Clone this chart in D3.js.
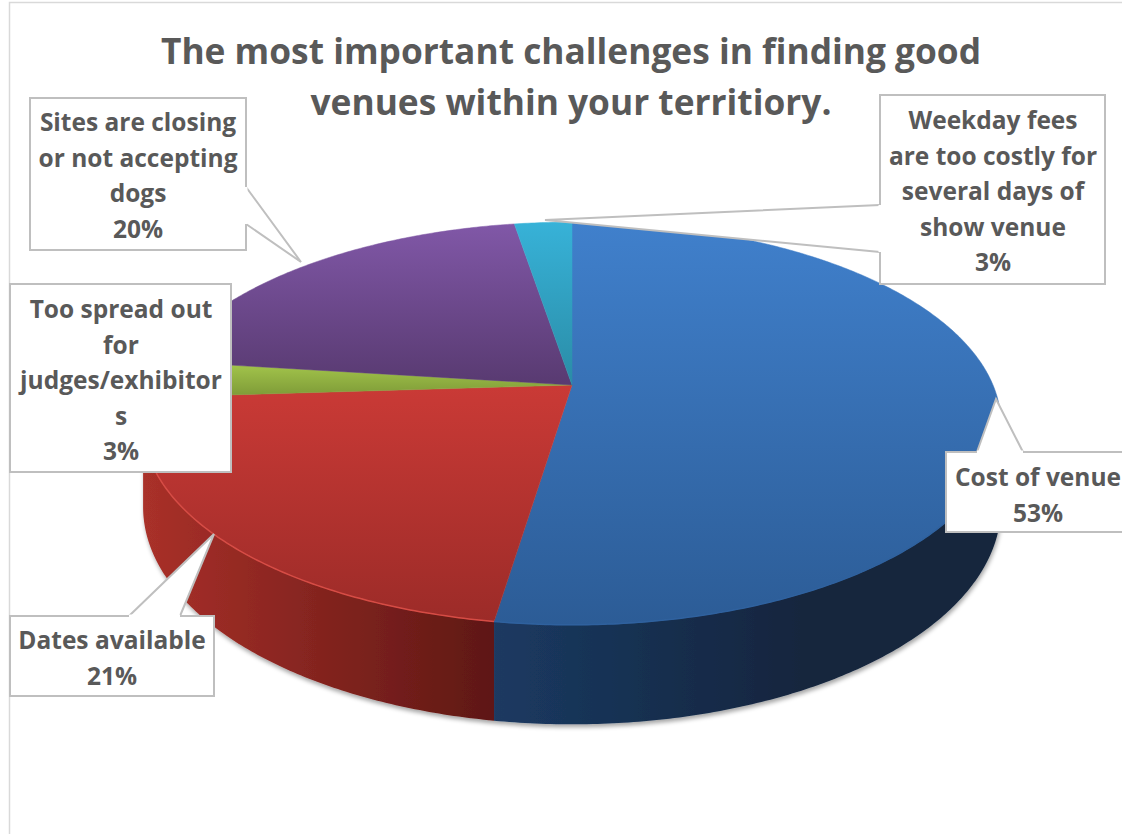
<!DOCTYPE html>
<html><head><meta charset="utf-8">
<script src="https://cdn.jsdelivr.net/npm/d3@7/dist/d3.min.js"></script>
<style>html,body{margin:0;padding:0;background:#fff;overflow:hidden}svg{display:block}text{font-family:"Open Sans",sans-serif;fill:#595959}</style>
</head><body><script>
// ---- data ----
const categories = ["Cost of venue","Dates available","Too spread out for judges/exhibitors","Sites are closing or not accepting dogs","Weekday fees are too costly for several days of show venue"];
const shares = [52.4,21.6,3.0,20.4,2.6];
const percentLabels = ["53%","21%","3%","20%","3%"];
const titleLines = ["The most important challenges in finding good","venues within your territiory."];
const labelLines = [["Cost of venue"],["Dates available"],["Too spread out","for","judges/exhibitor","s"],["Sites are closing","or not accepting","dogs"],["Weekday fees","are too costly for","several days of","show venue"]];

// ---- styling and layout ----
const W=1122,H=834;
const topColors=[["#4080cc","#2c5c96"],["#ca3a36","#9c2b28"],["#a4c64c","#7f9c38"],["#8158a8","#57396f"],["#37b2d8","#2a8ca6"]];
const topGradY=[[222,625],[385,622],[363,395],[222,390],[222,385]];
const wallColors=[["#1b3a62","#13253e"],["#a93029","#5f1815"]];
const K=0.191, DEPTH=80.5;
const xScale=d3.scaleLinear().domain([-1,1]).range([572-421,572+421]);
const yScale=d3.scaleLinear().domain([-1,1]).range([385-194,385+194]);
const boxes=[
 {x:946,y:452,w:190,h:80,cx:1038,fy:486,tip:[996,399],a:[977,452],b:[1023,452]},
 {x:10,y:616,w:204,h:80,cx:112,fy:649,tip:[214,534],a:[129,616],b:[180,616]},
 {x:10,y:284,w:221,h:188,cx:121,fy:318,tip:null},
 {x:30,y:98,w:216,h:152,cx:138,fy:131,tip:[301,262],a:[246,187],b:[246,224]},
 {x:880,y:95,w:225,h:189,cx:993,fy:129,tip:[545,220],a:[880,205],b:[880,252]}
];
const FS=24.5, LH=35.5;

const svg=d3.select("body").append("svg").attr("width",W).attr("height",H);
const defs=svg.append("defs");
const sh=defs.append("filter").attr("id","sh").attr("x","-5%").attr("y","-5%").attr("width","110%").attr("height","115%");
sh.append("feDropShadow").attr("dx",1).attr("dy",3).attr("stdDeviation",2.2).attr("flood-color","#000").attr("flood-opacity",0.35);

svg.append("path").attr("d",`M1122 2.5H9.5V834`).attr("fill","none").attr("stroke","#d9d9d9").attr("stroke-width",1.5);

svg.selectAll("text.title").data(titleLines).join("text").attr("class","title")
 .attr("x",571).attr("y",(d,i)=>64+i*51).attr("text-anchor","middle")
 .attr("font-size",35.3).attr("font-weight",700).text(d=>d);

// projection of the disc
const proj=(a,drop=0)=>{const u=Math.sin(a),v=-Math.cos(a),s=1/(1-K*v);
  return [xScale(u*s),yScale(v*s)+drop*s];};
const line=d3.line();
const sample=(a0,a1)=>{const n=Math.max(2,Math.ceil(Math.abs(a1-a0)/0.01));return d3.range(n+1).map(i=>a0+(a1-a0)*i/n);};

const arcs=d3.pie().sort(null).value(d=>d)(shares);

topColors.forEach((c,i)=>{
  const g=defs.append("linearGradient").attr("id","top"+i).attr("gradientUnits","userSpaceOnUse").attr("x1",0).attr("x2",0).attr("y1",topGradY[i][0]).attr("y2",topGradY[i][1]);
  g.append("stop").attr("offset",0).attr("stop-color",c[0]);g.append("stop").attr("offset",1).attr("stop-color",c[1]);
});
wallColors.forEach((c,i)=>{
  const g=defs.append("linearGradient").attr("id","wall"+i).attr("gradientUnits","userSpaceOnUse").attr("y1",0).attr("y2",0).attr("x1",i==0?490:145).attr("x2",i==0?800:490);
  g.append("stop").attr("offset",0).attr("stop-color",c[0]);g.append("stop").attr("offset",1).attr("stop-color",c[1]);
});

// walls: only the part of the rim that faces the viewer
const frontStart=Math.acos(-K), frontEnd=2*Math.PI-frontStart;
const wallG=svg.append("g").attr("filter","url(#sh)");
arcs.forEach((d,i)=>{
  const a0=Math.max(d.startAngle,frontStart),a1=Math.min(d.endAngle,frontEnd);
  if(a1<=a0) return;
  const pts=sample(a0,a1);
  const poly=pts.map(a=>proj(a)).concat(pts.slice().reverse().map(a=>proj(a,DEPTH)));
  wallG.append("path").attr("d",line(poly)+"Z").attr("fill",`url(#wall${i})`);
});

// top faces, drawn with the rim
arcs.forEach((d,i)=>{
  const pts=sample(d.startAngle,d.endAngle).map(a=>proj(a));
  svg.append("path").attr("d",line([[xScale(0),yScale(0)]].concat(pts))+"Z")
    .attr("fill",`url(#top${i})`).attr("stroke",`url(#top${i})`).attr("stroke-width",0.5);
});
const rimColors=["#2f619e","#d64c45"];
[0,1].forEach(i=>{
  const d=arcs[i];
  const a0=Math.max(d.startAngle,frontStart),a1=Math.min(d.endAngle,frontEnd);
  svg.append("path").attr("d",line(sample(a0,a1).map(a=>proj(a)))).attr("fill","none").attr("stroke",rimColors[i]).attr("stroke-width",1.5);
});

// callout labels
boxes.forEach((b,i)=>{
  const g=svg.append("g");
  g.append("rect").attr("x",b.x).attr("y",b.y).attr("width",b.w).attr("height",b.h).attr("fill","#fff").attr("stroke","#bfbfbf").attr("stroke-width",2);
  if(b.tip){
    g.append("path").attr("d",line([b.a,b.tip,b.b])).attr("fill","#fff").attr("stroke","#bfbfbf").attr("stroke-width",2);
    // hide the box edge across the wedge's mouth
    g.append("path").attr("d",line([b.a,b.b])).attr("fill","none").attr("stroke","#fff").attr("stroke-width",3);
  }
  const lines=labelLines[i].concat([percentLabels[i]]);
  g.selectAll("text").data(lines).join("text").attr("x",b.cx).attr("y",(d,k)=>b.fy+k*LH)
    .attr("text-anchor","middle").attr("font-size",FS).attr("font-weight",700).text(d=>d);
});
</script></body></html>
